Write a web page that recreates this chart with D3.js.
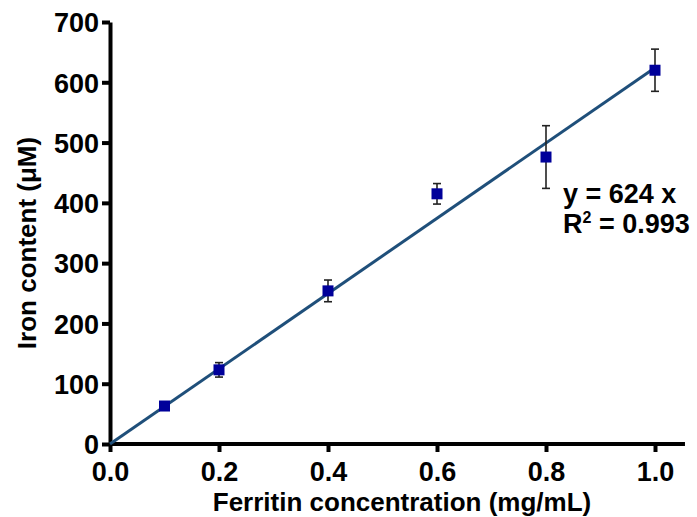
<!DOCTYPE html>
<html>
<head>
<meta charset="utf-8">
<script src="https://cdn.jsdelivr.net/npm/d3@7"></script>
<style>
  body { margin: 0; background: #fff; }
  text { font-family: "Liberation Sans", Arial, sans-serif; font-weight: bold; fill: #000; }
</style>
</head>
<body>
<div id="chart"></div>
<script>
// Data
const concentrations = [0.1, 0.2, 0.4, 0.6, 0.8, 1.0];
const ironMeans = [63, 123, 254, 415, 476, 620];
const ironErrors = [5, 12, 18, 17, 52, 35];
const xTicks = [0.0, 0.2, 0.4, 0.6, 0.8, 1.0];
const yTicks = [0, 100, 200, 300, 400, 500, 600, 700];
const slope = 624;

const width = 697, height = 517;
const svg = d3.select('#chart').append('svg')
    .attr('width', width)
    .attr('height', height);

const x = d3.scaleLinear().domain([0, 1]).range([110, 655]);
const y = d3.scaleLinear().domain([0, 700]).range([444, 22]);

// axes
const xAxis = svg.append('g')
    .attr('transform', `translate(0,${y(0)})`)
    .call(d3.axisBottom(x).tickValues(xTicks).tickFormat(d3.format('.1f')).tickSize(8).tickPadding(10).tickSizeOuter(0));
xAxis.select('.domain').attr('d', `M${x(0)},0H${x(1.055)}`);

const yAxis = svg.append('g')
    .attr('transform', `translate(${x(0)},0)`)
    .call(d3.axisLeft(y).tickValues(yTicks).tickSize(8).tickPadding(3).tickSizeOuter(0));

svg.selectAll('.domain').attr('stroke', '#000').attr('stroke-width', 4);
svg.selectAll('.tick line').attr('stroke', '#000').attr('stroke-width', 4);
svg.selectAll('.tick text').style('font-size', '27px').style('font-family', '"Liberation Sans", Arial, sans-serif').style('font-weight', 'bold');
xAxis.selectAll('.tick text').attr('dy', '0.71em');
yAxis.selectAll('.tick text').attr('dy', '0.36em');

// fit line y = 624x
svg.append('line')
    .attr('x1', x(0)).attr('y1', y(0))
    .attr('x2', x(1)).attr('y2', y(slope))
    .attr('stroke', '#1f4f7a')
    .attr('stroke-width', 3);

const pts = concentrations.map((c, i) => ({ c, m: ironMeans[i], e: ironErrors[i] }));

// error bars
const eb = svg.append('g').attr('stroke', '#222').attr('stroke-width', 1.6);
pts.forEach(d => {
    eb.append('line').attr('x1', x(d.c)).attr('x2', x(d.c)).attr('y1', y(d.m - d.e)).attr('y2', y(d.m + d.e));
    eb.append('line').attr('x1', x(d.c) - 4).attr('x2', x(d.c) + 4).attr('y1', y(d.m - d.e)).attr('y2', y(d.m - d.e));
    eb.append('line').attr('x1', x(d.c) - 4).attr('x2', x(d.c) + 4).attr('y1', y(d.m + d.e)).attr('y2', y(d.m + d.e));
});

// markers
svg.selectAll('rect.pt')
    .data(pts)
    .enter().append('rect')
    .attr('class', 'pt')
    .attr('x', d => x(d.c) - 5.5)
    .attr('y', d => y(d.m) - 5.5)
    .attr('width', 11)
    .attr('height', 11)
    .attr('fill', '#00009a');

// equation
const eq = svg.append('text').attr('x', 563).attr('y', 203).style('font-size', '27px');
eq.text(`y = ${slope} x`);
const r2 = svg.append('text').attr('x', 563).attr('y', 233).style('font-size', '27px');
r2.append('tspan').text('R');
r2.append('tspan').attr('dy', -10).style('font-size', '16px').text('2');
r2.append('tspan').attr('dy', 10).text(' = 0.993');

// axis titles
svg.append('text')
    .attr('x', 402).attr('y', 511)
    .attr('text-anchor', 'middle')
    .style('font-size', '26px')
    .text('Ferritin concentration (mg/mL)');

svg.append('text')
    .attr('transform', 'translate(36,243) rotate(-90)')
    .attr('text-anchor', 'middle')
    .style('font-size', '26px')
    .text('Iron content (μM)');
</script>
</body>
</html>
